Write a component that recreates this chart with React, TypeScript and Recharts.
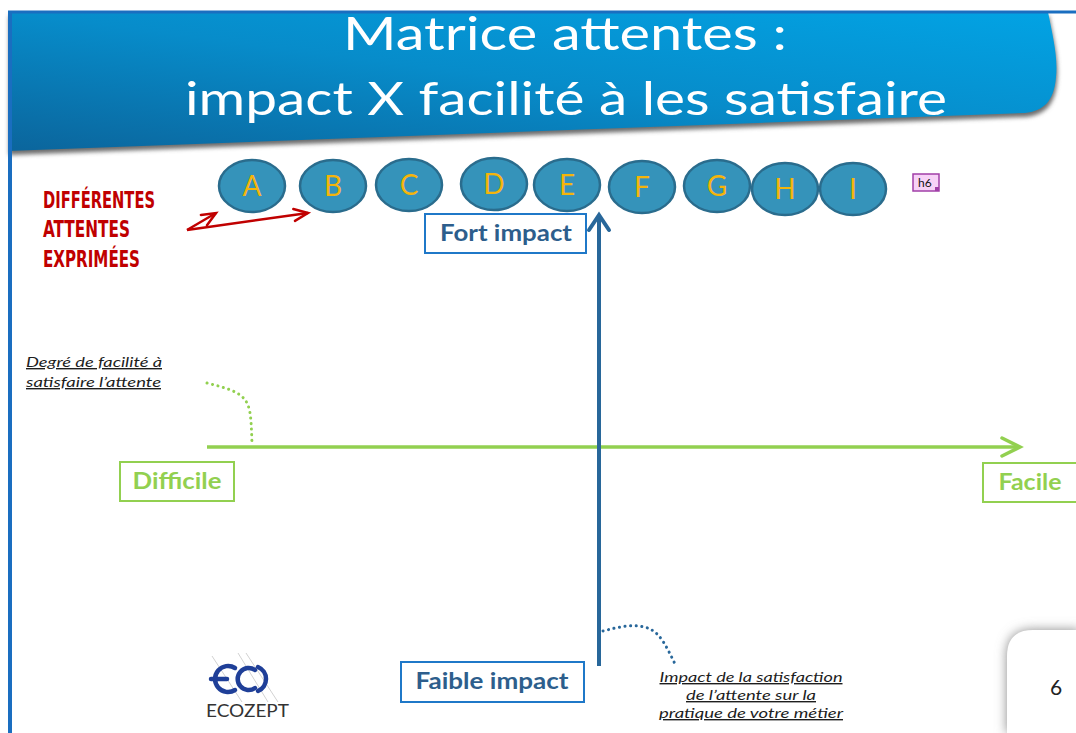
import {
  ComposedChart,
  ReferenceArea,
  ReferenceLine,
  Scatter,
  XAxis,
  YAxis,
} from "recharts";

const W = 1076;
const H = 733;

const titleLines = ["Matrice attentes :", "impact X facilité à les satisfaire"];
const attentes = ["A", "B", "C", "D", "E", "F", "G", "H", "I"];
const attenteX = [252, 333, 409, 494, 567, 642, 717, 785, 853];
const attenteY = [186, 186, 185, 184, 185, 187, 186, 189, 189];
const expressedLines = ["DIFFÉRENTES", "ATTENTES", "EXPRIMÉES"];
const easeLabels = ["Difficile", "Facile"];
const impactLabels = ["Fort impact", "Faible impact"];
const easeNote = ["Degré de facilité à", "satisfaire l’attente"];
const impactNote = [
  "Impact de la satisfaction",
  "de l’attente sur la",
  "pratique de votre métier",
];
// dotted leader curves
const easeLeaderX = [207, 233, 247, 251, 252];
const easeLeaderY = [383, 391, 403, 422, 445];
const impactLeaderX = [603, 628, 650, 664, 675];
const impactLeaderY = [631, 626, 629, 643, 664];

const bubbles = attentes.map((label, i) => ({ x: attenteX[i], y: attenteY[i], label }));
const easeLeader = easeLeaderX.map((x, i) => ({ x, y: easeLeaderY[i] }));
const impactLeader = impactLeaderX.map((x, i) => ({ x, y: impactLeaderY[i] }));

const SANS = "Lato, 'Open Sans', sans-serif";
const BLUE_TXT = "#2d5e8c";
const BLUE_BOX = "#1f78c8";
const GREEN = "#92d050";

function arrowShape(color: string, width: number, len: number, half: number) {
  return (p: any) => {
    const { x1, y1, x2, y2 } = p;
    const a = Math.atan2(y2 - y1, x2 - x1);
    const bx = x2 - len * Math.cos(a);
    const by = y2 - len * Math.sin(a);
    const nx = -Math.sin(a) * half;
    const ny = Math.cos(a) * half;
    return (
      <g>
        <line x1={x1} y1={y1} x2={x2} y2={y2} stroke={color} strokeWidth={width} />
        <polyline
          points={`${bx + nx},${by + ny} ${x2},${y2} ${bx - nx},${by - ny}`}
          fill="none"
          stroke={color}
          strokeWidth={width}
          strokeLinecap="round"
        />
      </g>
    );
  };
}

// framed label box, text centred on textCx (offset from box left)
function boxShape(text: string, border: string, color: string, textW: number, textCx: number) {
  return (p: any) => (
    <g>
      <rect x={p.x} y={p.y} width={p.width} height={p.height} fill="#fff" stroke={border} strokeWidth={2} />
      <text
        x={p.x + textCx}
        y={p.y + p.height / 2 + 7}
        textAnchor="middle"
        fill={color}
        fontSize={22}
        fontWeight="bold"
        fontFamily={SANS}
        textLength={textW}
        lengthAdjust="spacingAndGlyphs"
      >
        {text}
      </text>
    </g>
  );
}

const Banner = (p: any) => {
  const { x, y, width: w, height: h } = p;
  const d = `M${x},${y} L${x + w - 10},${y} C${x + w - 5},${y + 25} ${x + w},${y + 45} ${x + w - 2},${y + 65}
    C${x + w - 4},${y + 90} ${x + w - 15},${y + 99} ${x + w - 33},${y + 101} L${x},${y + h} Z`;
  return (
    <g>
      <defs>
        <linearGradient id="bannerGrad" x1="0" y1="1" x2="1" y2="0">
          <stop offset="0" stopColor="#0b659c" />
          <stop offset="0.5" stopColor="#078cca" />
          <stop offset="1" stopColor="#02a3e4" />
        </linearGradient>
        <filter id="blur2" x="-5%" y="-20%" width="110%" height="140%">
          <feGaussianBlur stdDeviation="2" />
        </filter>
      </defs>
      <path d={d} transform="translate(1,4)" fill="#6d6d6d" filter="url(#blur2)" />
      <path d={d} fill="url(#bannerGrad)" />
      <text
        x={x + 557}
        y={y + 38}
        textAnchor="middle"
        fill="#fff"
        fontSize={46}
        fontFamily={SANS}
        textLength={444}
        lengthAdjust="spacingAndGlyphs"
      >
        {titleLines[0]}
      </text>
      <text
        x={x + 558}
        y={y + 103}
        textAnchor="middle"
        fill="#fff"
        fontSize={46}
        fontFamily={SANS}
        textLength={762}
        lengthAdjust="spacingAndGlyphs"
      >
        {titleLines[1]}
      </text>
    </g>
  );
};

const Bubble = (p: any) => (
  <g>
    <ellipse cx={p.cx} cy={p.cy} rx={33} ry={26} fill="#3593ba" stroke="#2a6c8d" strokeWidth={2.5} />
    <text
      x={p.cx}
      y={p.cy}
      dy={10}
      textAnchor="middle"
      fill="#f5b50a"
      fontSize={28}
      fontFamily={SANS}
    >
      {p.payload.label}
    </text>
  </g>
);

const NoDot = () => <g />;

const ExpressedText = (p: any) => {
  const widths = [112, 87, 97];
  const gaps = [0, 29, 59];
  return (
    <g>
      {expressedLines.map((t, i) => (
        <text
          key={t}
          x={p.x}
          y={p.y + 18 + gaps[i]}
          fill="#c00000"
          fontSize={23}
          fontWeight="bold"
          fontFamily="'Liberation Sans Narrow', 'DejaVu Sans Condensed', sans-serif"
          textLength={widths[i]}
          lengthAdjust="spacingAndGlyphs"
        >
          {t}
        </text>
      ))}
    </g>
  );
};

const EaseNote = (p: any) => {
  const widths = [136, 135];
  return (
    <g>
      {easeNote.map((t, i) => (
        <text
          key={t}
          x={p.x}
          y={p.y + 13 + i * 20}
          fill="#1e1e1e"
          fontSize={14}
          fontStyle="italic"
          fontFamily={SANS}
          textLength={widths[i]}
          lengthAdjust="spacingAndGlyphs"
          style={{ textDecoration: "underline" }}
        >
          {t}
        </text>
      ))}
    </g>
  );
};

const ImpactNote = (p: any) => {
  const widths = [183, 130, 184];
  const cx = p.x + p.width / 2;
  return (
    <g>
      {impactNote.map((t, i) => (
        <text
          key={t}
          x={cx}
          y={p.y + 13 + i * 18}
          textAnchor="middle"
          fill="#1e1e1e"
          fontSize={14}
          fontStyle="italic"
          fontFamily={SANS}
          textLength={widths[i]}
          lengthAdjust="spacingAndGlyphs"
          style={{ textDecoration: "underline" }}
        >
          {t}
        </text>
      ))}
    </g>
  );
};

const Logo = (p: any) => {
  const { x, y } = p;
  const c = "#1f3f98";
  return (
    <g>
      <g stroke="#d2d2d2" strokeWidth={1}>
        <line x1={x + 16} y1={y + 6} x2={x + 46} y2={y + 52} />
        <line x1={x + 42} y1={y + 3} x2={x + 72} y2={y + 52} />
        <line x1={x + 50} y1={y + 3} x2={x + 82} y2={y + 52} />
      </g>
      <g fill="none" stroke={c} strokeWidth={4.5} strokeLinecap="round">
        {/* E */}
        <path d={`M${x + 39},${y + 18} A13,13 0 1,0 ${x + 39},${y + 40}`} />
        <line x1={x + 15} y1={y + 29} x2={x + 31} y2={y + 29} />
        {/* C */}
        <path d={`M${x + 59},${y + 20} A11,11 0 1,0 ${x + 59},${y + 38}`} />
        {/* ) */}
        <path d={`M${x + 62},${y + 17} A13,13 0 0,1 ${x + 62},${y + 41}`} />
      </g>
      <text
        x={x + 10}
        y={y + 67}
        fill="#333"
        fontSize={17}
        fontFamily={SANS}
        textLength={83}
        lengthAdjust="spacingAndGlyphs"
      >
        ECOZEPT
      </text>
    </g>
  );
};

const PageBox = (p: any) => {
  const { x, y } = p;
  const d = `M${x},${H} L${x},${y + 26} Q${x},${y} ${x + 26},${y} L${W + 4},${y} L${W + 4},${H} Z`;
  return (
    <g>
      <defs>
        <filter id="blur6" x="-40%" y="-40%" width="180%" height="180%">
          <feGaussianBlur stdDeviation="6" />
        </filter>
      </defs>
      <path d={d} fill="#8a8a8a" filter="url(#blur6)" />
      <path d={d} fill="#fff" />
      <text x={x + 49} y={y + 65} textAnchor="middle" fill="#222" fontSize={21} fontFamily={SANS}>
        6
      </text>
    </g>
  );
};

const TagBox = (p: any) => (
  <g>
    <rect x={p.x} y={p.y} width={p.width} height={p.height} fill="#f7d2f7" stroke="#a13fa8" strokeWidth={1.5} />
    <rect x={p.x + p.width - 4} y={p.y + p.height - 4} width={4} height={4} fill="#a13fa8" />
    <text x={p.x + 5} y={p.y + 13} fill="#111" fontSize={12} fontFamily={SANS}>
      h6
    </text>
  </g>
);

export default function App() {
  return (
    <div style={{ position: "absolute", left: 0, top: 0, width: W, height: H, background: "#fff" }}>
      <ComposedChart width={W} height={H} margin={{ top: 0, right: 0, bottom: 0, left: 0 }}>
        <XAxis type="number" dataKey="x" domain={[0, W]} allowDataOverflow hide />
        <YAxis type="number" dataKey="y" domain={[0, H]} allowDataOverflow reversed hide />

        {/* header */}
        <ReferenceArea x1={8} x2={1058} y1={12} y2={151} shape={Banner} ifOverflow="visible" />
        <ReferenceLine
          segment={[{ x: 8, y: 12 }, { x: W, y: 12 }]}
          stroke="#1a6ec0"
          strokeWidth={3}
          ifOverflow="visible"
        />
        <ReferenceLine
          segment={[{ x: 10, y: 12 }, { x: 10, y: H }]}
          stroke="#1a6ec0"
          strokeWidth={4}
          ifOverflow="visible"
        />

        {/* expressed expectations */}
        <ReferenceArea x1={43} x2={160} y1={190} y2={270} shape={ExpressedText} ifOverflow="visible" />
        <ReferenceLine
          segment={[{ x: 187, y: 230 }, { x: 216, y: 213 }]}
          shape={arrowShape("#c00000", 2.5, 14, 6)}
          ifOverflow="visible"
        />
        <ReferenceLine
          segment={[{ x: 187, y: 230 }, { x: 308, y: 213 }]}
          shape={arrowShape("#c00000", 2.5, 14, 6)}
          ifOverflow="visible"
        />
        <ReferenceArea x1={913} x2={939} y1={174} y2={191} shape={TagBox} ifOverflow="visible" />

        {/* axes */}
        <ReferenceLine
          segment={[{ x: 207, y: 447 }, { x: 1020, y: 447 }]}
          shape={arrowShape(GREEN, 3.5, 18, 9)}
          ifOverflow="visible"
        />
        <ReferenceLine
          segment={[{ x: 599, y: 666 }, { x: 599, y: 215 }]}
          shape={arrowShape("#28679a", 4, 15, 10)}
          ifOverflow="visible"
        />

        {/* axis labels */}
        <ReferenceArea
          x1={425} x2={586} y1={214} y2={253}
          shape={boxShape(impactLabels[0], BLUE_BOX, BLUE_TXT, 132, 81)}
          ifOverflow="visible"
        />
        <ReferenceArea
          x1={401} x2={584} y1={662} y2={702}
          shape={boxShape(impactLabels[1], BLUE_BOX, BLUE_TXT, 153, 91)}
          ifOverflow="visible"
        />
        <ReferenceArea
          x1={120} x2={234} y1={462} y2={501}
          shape={boxShape(easeLabels[0], GREEN, GREEN, 89, 57)}
          ifOverflow="visible"
        />
        <ReferenceArea
          x1={983} x2={1079} y1={463} y2={502}
          shape={boxShape(easeLabels[1], GREEN, GREEN, 63, 47)}
          ifOverflow="visible"
        />

        {/* notes */}
        <ReferenceArea x1={26} x2={162} y1={354} y2={390} shape={EaseNote} ifOverflow="visible" />
        <ReferenceArea x1={659} x2={843} y1={669} y2={722} shape={ImpactNote} ifOverflow="visible" />

        {/* footer */}
        <ReferenceArea x1={196} x2={292} y1={650} y2={720} shape={Logo} ifOverflow="visible" />
        <ReferenceArea x1={1007} x2={W} y1={630} y2={H} shape={PageBox} ifOverflow="visible" />

        {/* dotted leaders */}
        <Scatter
          data={easeLeader}
          shape={NoDot}
          line={{ stroke: GREEN, strokeWidth: 3, strokeDasharray: "0.1 5.5", strokeLinecap: "round" }}
          lineJointType="natural"
          isAnimationActive={false}
        />
        <Scatter
          data={impactLeader}
          shape={NoDot}
          line={{ stroke: "#28679a", strokeWidth: 3, strokeDasharray: "0.1 5.5", strokeLinecap: "round" }}
          lineJointType="natural"
          isAnimationActive={false}
        />

        {/* expectations */}
        <Scatter data={bubbles} shape={Bubble} isAnimationActive={false} />
      </ComposedChart>
    </div>
  );
}
